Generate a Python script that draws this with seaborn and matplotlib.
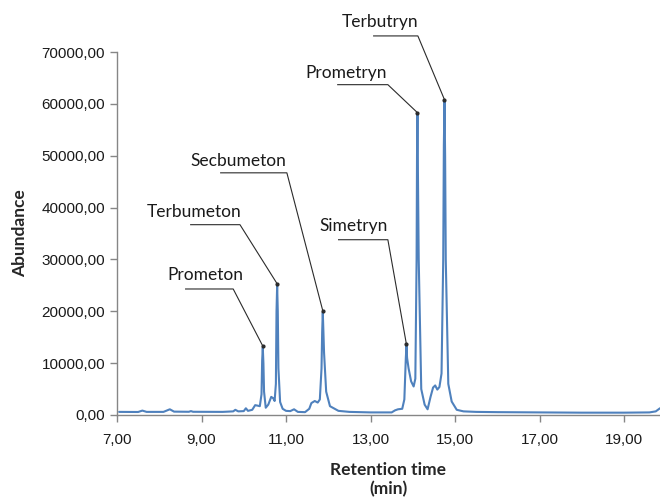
import matplotlib
matplotlib.use("Agg")
import matplotlib.pyplot as plt
import numpy as np
import pandas as pd
import seaborn as sns
from matplotlib.ticker import FuncFormatter, FixedLocator

# --- chromatogram trace (retention time in min, abundance) ---
trace_time = [7.05, 7.50, 7.60, 7.70, 8.10, 8.25, 8.35, 8.70, 8.75, 8.80,
              9.50, 9.75, 9.80, 9.87, 10.00, 10.05, 10.10, 10.20, 10.27, 10.33,
              10.38, 10.42, 10.435, 10.465, 10.48, 10.52, 10.58, 10.65, 10.70, 10.73,
              10.76, 10.775, 10.805, 10.82, 10.86, 10.92, 11.00, 11.10, 11.19, 11.28,
              11.45, 11.55, 11.60, 11.68, 11.75, 11.80, 11.84, 11.855, 11.885, 11.90,
              11.95, 12.04, 12.24, 12.50, 13.00, 13.50, 13.58, 13.65, 13.75, 13.80,
              13.835, 13.865, 13.90, 13.96, 14.02, 14.06, 14.09, 14.10, 14.12, 14.14,
              14.20, 14.28, 14.35, 14.42, 14.48, 14.53, 14.58, 14.63, 14.68, 14.72,
              14.735, 14.765, 14.78, 14.84, 14.92, 15.04, 15.20, 15.50, 16.00, 17.00,
              18.00, 19.00, 19.60, 19.75, 19.85]
trace_abund = [600, 580, 850, 600, 600, 1100, 650, 620, 750, 620,
               600, 700, 1000, 700, 750, 1300, 800, 1000, 1900, 1800,
               1700, 4000, 10500, 10000, 4500, 1400, 2000, 3500, 3200, 2700,
               6000, 20000, 20000, 9000, 2500, 1200, 800, 750, 1100, 600,
               550, 1200, 2300, 2700, 2400, 3000, 9000, 16000, 16000, 12000,
               4500, 1700, 800, 600, 500, 500, 900, 1100, 1200, 3000,
               11000, 11000, 9000, 6500, 5500, 7000, 30000, 50000, 48000, 30000,
               5000, 2000, 1100, 3500, 5300, 5700, 4900, 5400, 8000, 30000,
               52000, 50000, 30000, 6000, 2600, 1000, 700, 600, 550, 500,
               450, 450, 500, 700, 1300]

# --- identified peaks ---
peak_names = ["Prometon", "Terbumeton", "Secbumeton", "Simetryn", "Prometryn", "Terbutryn"]
peak_times = [10.45, 10.79, 11.87, 13.85, 14.11, 14.75]
peak_heights = [13000, 25000, 19800, 13300, 58000, 60500]

# --- axis ticks ---
x_ticks = [7, 9, 11, 13, 15, 17, 19]
y_ticks = [0, 10000, 20000, 30000, 40000, 50000, 60000, 70000]

# label placement: text centre (x, y) and the horizontal leader segment (x0, x1, y)
label_xy = [(9.08, 27000), (8.82, 39200), (9.86, 49000), (12.61, 36500), (12.42, 66000), (13.22, 75800)]
leader_seg = [(8.61, 9.75, 24300), (8.73, 9.91, 36700), (9.44, 11.02, 46700),
              (12.23, 13.41, 33800), (12.21, 13.41, 63700), (13.06, 14.12, 73100)]

sns.set_style("white")
plt.rcParams["font.family"] = ["Liberation Sans", "DejaVu Sans"]

# merge the apex points into the trace
df = pd.DataFrame({"time": trace_time + peak_times,
                   "abundance": trace_abund + peak_heights}).sort_values("time")

fig = plt.figure(figsize=(6.6, 5.04), dpi=100)
ax = fig.add_axes([117 / 660, 1 - 415 / 504, 543 / 660, 363 / 504])

sns.lineplot(data=df, x="time", y="abundance", ax=ax, color="#4F81BD",
             linewidth=1.5, estimator=None, sort=True)

ax.set_xlim(7, 19.85)
ax.set_ylim(0, 70000)
ax.xaxis.set_major_locator(FixedLocator(x_ticks))
ax.yaxis.set_major_locator(FixedLocator(y_ticks))
comma = FuncFormatter(lambda v, p: f"{v:.2f}".replace(".", ","))
ax.xaxis.set_major_formatter(comma)
ax.yaxis.set_major_formatter(comma)

for side in ["top", "right"]:
    ax.spines[side].set_visible(False)
for side in ["left", "bottom"]:
    ax.spines[side].set_color("#868686")
    ax.spines[side].set_linewidth(1.0)
ax.tick_params(axis="both", which="major", direction="out", length=5, width=1,
               color="#868686", labelsize=11, labelcolor="#1a1a1a",
               bottom=True, left=True)
ax.tick_params(axis="x", pad=8)

ax.set_xlabel("Retention time\n(min)", fontsize=12.5, fontweight="bold",
              family="Lato", labelpad=11, linespacing=1.2)
ax.set_ylabel("Abundance", fontsize=12.5, fontweight="bold", family="Lato", labelpad=10)

for name, (tx, ty), (sx0, sx1, sy), pt, ph in zip(peak_names, label_xy, leader_seg,
                                                    peak_times, peak_heights):
    ax.text(tx, ty, name, ha="center", va="center", fontsize=12.5, family="Lato",
            color="#1a1a1a", clip_on=False)
    ax.plot([sx0, sx1, pt], [sy, sy, ph + 300], color="#2b2b2b", lw=0.8,
            clip_on=False, solid_capstyle="butt")
    ax.plot([pt], [ph + 300], marker="o", ms=2, color="#2b2b2b", clip_on=False)

fig.savefig("out.png", dpi=100)
